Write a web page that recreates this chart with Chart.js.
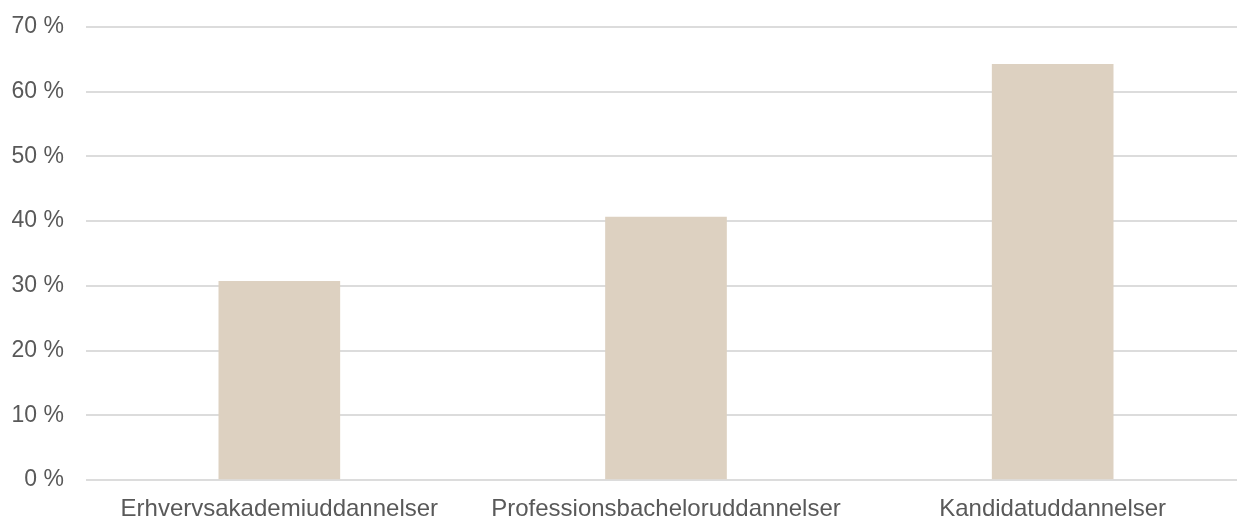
<!DOCTYPE html>
<html>
<head>
<meta charset="utf-8">
<script src="https://cdn.jsdelivr.net/npm/chart.js@4/dist/chart.umd.min.js"></script>
<style>
  html, body { margin: 0; padding: 0; background: #ffffff; overflow: hidden; }
  #wrap { position: relative; top: -9px; width: 1246px; height: 529px; }
</style>
</head>
<body>
<div id="wrap"><canvas id="c"></canvas></div>
<script>
const categories = ["Erhvervsakademiuddannelser", "Professionsbacheloruddannelser", "Kandidatuddannelser"];
const shareValues = [30.7, 40.6, 64.2];
const yTickValues = [0, 10, 20, 30, 40, 50, 60, 70];

const FONT = "'Liberation Sans', Arial, sans-serif";
new Chart(document.getElementById('c'), {
  type: 'bar',
  data: {
    labels: categories,
    datasets: [{
      data: shareValues,
      backgroundColor: '#ddd1c1',
      borderWidth: 0,
      barThickness: 121
    }]
  },
  options: {
    responsive: true,
    maintainAspectRatio: false,
    animation: false,
    layout: { padding: { top: 17, right: 0, left: 0, bottom: 0 } },
    plugins: { legend: { display: false }, tooltip: { enabled: false } },
    scales: {
      x: {
        grid: { display: false },
        border: { display: false },
        ticks: { color: '#595959', font: { family: FONT, size: 24 }, padding: 7, maxRotation: 0, autoSkip: false },
        afterFit: (s) => { s.height = 40; }
      },
      y: {
        min: 0, max: 70,
        afterBuildTicks: (s) => { s.ticks = yTickValues.map(v => ({ value: v })); },
        grid: { color: '#dcdcdc', lineWidth: 2, drawTicks: false },
        border: { display: false },
        ticks: {
          color: '#595959', font: { family: FONT, size: 23 }, padding: 22,
          callback: (v) => v + ' %'
        },
        afterFit: (s) => { s.width = 86; }
      }
    }
  }
});
</script>
</body>
</html>
